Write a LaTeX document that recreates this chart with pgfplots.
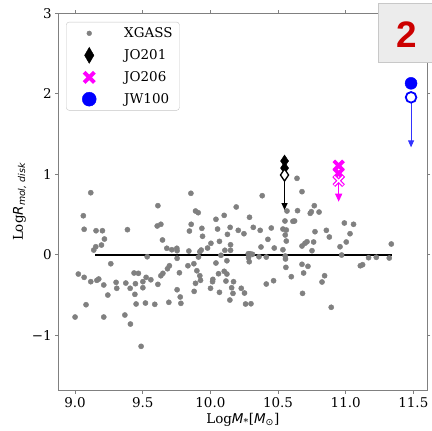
\documentclass[border=0pt]{standalone}
\usepackage{pgfplots}
\pgfplotsset{compat=1.18}
\usepackage{fontspec}
\setmainfont{DejaVu Serif}
\newfontfamily\dvsans{DejaVu Sans}
\newfontfamily\badgefont{Liberation Sans}
\usetikzlibrary{arrows.meta}
\definecolor{ptgrey}{HTML}{808080}
\definecolor{mag}{RGB}{255,0,255}
\definecolor{blu}{RGB}{0,0,255}
\pgfplotsset{myleg/.style={legend image code/.code={\path (0bp,0bp) (47bp,0bp); \draw[##1, sharp corners] plot coordinates {(16bp,0bp)};}}}
\pgfplotstableread{
x y
9.116 0.770
9.061 0.484
9.067 0.316
9.155 0.298
9.202 0.298
9.387 0.311
9.612 0.609
9.607 0.357
9.634 0.378
9.217 0.195
9.195 0.120
9.153 0.099
9.138 0.058
9.646 0.183
9.533 -0.025
9.264 -0.112
9.024 -0.240
9.067 -0.281
9.116 -0.335
9.161 -0.318
9.175 -0.302
9.212 -0.376
9.303 -0.343
9.308 -0.417
9.375 -0.352
9.407 -0.417
9.436 -0.227
9.468 -0.231
9.446 -0.360
9.501 -0.335
9.501 -0.410
9.525 -0.281
9.560 -0.311
9.612 -0.368
9.634 -0.261
9.649 -0.231
9.242 -0.501
9.442 -0.492
9.081 -0.621
9.451 -0.612
9.520 -0.600
9.589 -0.616
9.693 -0.591
9.000 -0.774
9.212 -0.774
9.368 -0.749
9.409 -0.861
9.488 -1.138
9.856 0.763
9.890 0.543
9.910 0.522
9.858 0.378
9.845 0.294
9.937 0.328
9.942 0.229
10.191 0.593
10.383 0.733
10.041 0.440
10.102 0.489
10.053 0.319
10.146 0.340
10.126 0.253
10.206 0.303
10.248 0.261
10.289 0.465
10.317 0.340
10.368 0.303
10.450 0.332
10.425 0.191
10.374 0.096
10.472 0.083
10.004 0.142
10.067 0.166
9.979 0.083
9.932 0.058
9.922 0.037
9.912 -0.029
9.841 0.046
9.752 0.080
9.754 0.050
9.715 0.062
9.678 0.080
9.754 -0.045
9.697 -0.137
9.683 -0.174
9.771 -0.224
9.834 -0.137
9.878 -0.112
9.900 -0.199
9.922 -0.261
9.927 -0.318
9.890 -0.355
9.880 -0.455
9.754 -0.435
9.777 -0.525
9.782 -0.604
10.041 -0.103
10.078 -0.007
10.107 0.055
10.149 0.124
10.149 0.055
10.122 -0.075
10.060 -0.236
10.102 -0.206
10.122 -0.240
10.018 -0.306
10.016 -0.335
10.115 -0.327
10.171 -0.335
10.157 -0.410
10.167 -0.480
10.001 -0.417
10.067 -0.467
10.228 -0.417
10.252 -0.476
10.144 -0.563
10.260 -0.612
10.300 -0.609
10.280 0.012
10.294 0.012
10.282 -0.037
10.287 -0.087
10.311 0.005
10.359 -0.025
10.413 -0.029
10.413 -0.364
10.467 -0.323
10.640 0.949
10.677 0.783
10.768 0.609
10.746 0.534
10.738 0.514
10.803 0.530
10.566 0.543
10.644 0.547
10.551 0.419
10.610 0.415
10.622 0.419
10.536 0.319
10.561 0.307
10.553 0.245
10.561 0.170
10.536 0.062
10.677 0.108
10.699 0.142
10.714 0.161
10.751 0.050
10.763 0.158
10.773 0.286
10.857 0.303
10.879 0.220
10.990 0.394
11.058 0.378
11.032 0.261
11.004 0.158
10.958 0.099
10.970 -0.004
10.553 -0.016
10.555 -0.053
10.558 -0.157
10.677 -0.119
10.721 -0.144
10.689 -0.227
10.598 -0.273
10.844 -0.261
10.825 -0.339
10.681 -0.480
10.893 -0.653
11.108 -0.137
11.125 -0.124
11.169 -0.037
11.226 -0.032
11.322 -0.041
11.337 0.133
}\xgass
\begin{document}
\begin{tikzpicture}
\useasboundingbox (-58.3bp,-40.3bp) rectangle (373.7bp,390.7bp);
\begin{axis}[
  at={(0,0)}, anchor=south west,
  scale only axis, width=369bp, height=377.5bp,
  xmin=8.876, xmax=11.603, ymin=-1.689, ymax=3,
  xtick={9,9.5,10,10.5,11,11.5},
  xticklabels={9.0,9.5,10.0,10.5,11.0,11.5},
  ytick={-1,0,1,2,3},
  yticklabels={−1,0,1,2,3},
  tick align=outside, major tick length=3bp,
  tick style={gray, line width=0.6bp},
  axis line style={gray, line width=0.8bp},
  ticklabel style={font=\fontsize{13.5}{16}\selectfont},
  every axis x label/.style={at={(axis description cs:0.5,-0.0864)}, anchor=base},
  every axis y label/.style={at={(axis description cs:-0.0957,0.5)}, rotate=90, anchor=base},
  label style={font=\fontsize{13.5}{16}\selectfont},
  xlabel={Log{\dvsans\itshape M}\textsubscript{*}[{\dvsans\itshape M}\textsubscript{\dvsans ⊙}]},
  ylabel={Log{\dvsans\itshape R}\textsubscript{\dvsans\itshape mol, disk}},
  legend style={at={(axis description cs:0.021,0.977)}, anchor=north west,
    draw=gray!45, rounded corners=3bp, fill=white,
    font=\fontsize{13.5}{16}\selectfont,
    inner xsep=5bp, inner ysep=3.5bp, row sep=6.3bp,
    nodes={inner sep=2bp, text depth=0.15em, sharp corners}},
  legend cell align=left,
]
\addplot[only marks, mark=*, mark size=2.6bp, color=ptgrey, forget plot] table {\xgass};
\addplot[black, line width=1.6bp, forget plot] coordinates {(9.15,0) (11.34,0)};
% JO201
\addplot[only marks, mark=diamond*, mark size=6bp, black, mark options={xscale=0.9, fill=black}, forget plot]
  coordinates {(10.548,1.164) (10.548,1.077)};
\addplot[only marks, mark=diamond*, mark size=6bp, black, line width=1.3bp, mark options={xscale=0.9, fill=white}, forget plot]
  coordinates {(10.548,0.990)};
\addplot[black, line width=1.2bp, -{Triangle[width=6bp,length=7bp]}, forget plot]
  coordinates {(10.548,0.990) (10.548,0.555)};
% JO206
\addplot[only marks, mark=x, mark size=6.8bp, mag, line width=3.8bp, forget plot]
  coordinates {(10.948,1.106) (10.948,1.011)};
\addplot[only marks, mark=x, mark size=6.8bp, mag, line width=3.8bp, forget plot]
  coordinates {(10.948,0.919)};
\addplot[only marks, mark=x, mark size=6.2bp, white, line width=1.4bp, forget plot]
  coordinates {(10.948,0.919)};
\addplot[mag, line width=1.2bp, -{Triangle[width=7bp,length=8bp]}, forget plot]
  coordinates {(10.948,0.919) (10.948,0.658)};
% JW100
\addplot[only marks, mark=*, mark size=6bp, blu, mark options={fill=blu}, forget plot]
  coordinates {(11.483,2.129)};
\addplot[only marks, mark=*, mark size=5.3bp, blu, line width=1.8bp, mark options={fill=white}, forget plot]
  coordinates {(11.483,1.955)};
\addplot[blu!80, line width=1bp, -{Triangle[width=6bp,length=7bp]}, forget plot]
  coordinates {(11.483,1.955) (11.483,1.334)};
% legend
\addlegendimage{ptgrey, mark=*, mark size=2.4bp, mark options={fill=ptgrey}, myleg}
\addlegendentry{XGASS}
\addlegendimage{black, mark=diamond*, mark size=8bp, mark options={xscale=0.78, fill=black}, myleg}
\addlegendentry{JO201}
\addlegendimage{mag, mark=x, mark size=7.2bp, line width=4bp, myleg}
\addlegendentry{JO206}
\addlegendimage{blu, mark=*, mark size=7bp, mark options={fill=blu}, myleg}
\addlegendentry{JW100}
\end{axis}
\draw[fill={rgb,255:red,236;green,236;blue,236}, draw={rgb,255:red,200;green,200;blue,200}, line width=1bp]
  (319.7bp,327.7bp) rectangle (380bp,386.7bp);
\node[text={rgb,255:red,204;green,0;blue,0}, font=\badgefont\bfseries\fontsize{37}{40}\selectfont, inner sep=0pt]
  at (348.4bp,355.7bp) {2};
\end{tikzpicture}
\end{document}
